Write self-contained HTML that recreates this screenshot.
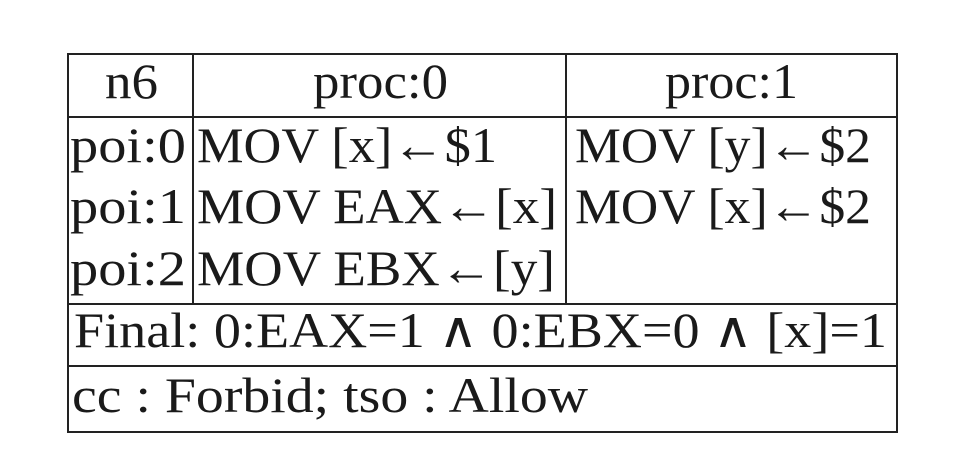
<!DOCTYPE html>
<html><head><meta charset="utf-8"><style>
html,body{margin:0;padding:0;background:#fff;}
svg{display:block}
text{font-family:"Liberation Serif",serif;font-size:50px;fill:#1a1a1a}
</style></head><body>
<svg width="960" height="458" viewBox="0 0 960 458">
<g stroke="#222" stroke-width="2">
<rect x="68" y="54" width="829" height="378" fill="none"/>
<line x1="68" y1="117" x2="897" y2="117"/>
<line x1="68" y1="304" x2="897" y2="304"/>
<line x1="68" y1="366" x2="897" y2="366"/>
<line x1="193" y1="54" x2="193" y2="304"/>
<line x1="566" y1="54" x2="566" y2="304"/>
</g>
<text x="105" y="98" textLength="53" lengthAdjust="spacingAndGlyphs">n6</text>
<text x="313" y="98" textLength="135" lengthAdjust="spacingAndGlyphs">proc:0</text>
<text x="665" y="98" textLength="133" lengthAdjust="spacingAndGlyphs">proc:1</text>
<text x="70" y="162" textLength="116" lengthAdjust="spacingAndGlyphs">poi:0</text>
<text x="70" y="223" textLength="116" lengthAdjust="spacingAndGlyphs">poi:1</text>
<text x="70" y="285" textLength="116" lengthAdjust="spacingAndGlyphs">poi:2</text>
<text x="197" y="162" textLength="300" lengthAdjust="spacingAndGlyphs">MOV [x]←$1</text>
<text x="197" y="223" textLength="360" lengthAdjust="spacingAndGlyphs">MOV EAX←[x]</text>
<text x="197" y="285" textLength="358" lengthAdjust="spacingAndGlyphs">MOV EBX←[y]</text>
<text x="575" y="162" textLength="296" lengthAdjust="spacingAndGlyphs">MOV [y]←$2</text>
<text x="575" y="223" textLength="296" lengthAdjust="spacingAndGlyphs">MOV [x]←$2</text>
<text x="74" y="347" textLength="813" lengthAdjust="spacingAndGlyphs">Final: 0:EAX=1 ∧ 0:EBX=0 ∧ [x]=1</text>
<text x="72" y="412" textLength="516" lengthAdjust="spacingAndGlyphs">cc : Forbid; tso : Allow</text>
</svg>
</body></html>
